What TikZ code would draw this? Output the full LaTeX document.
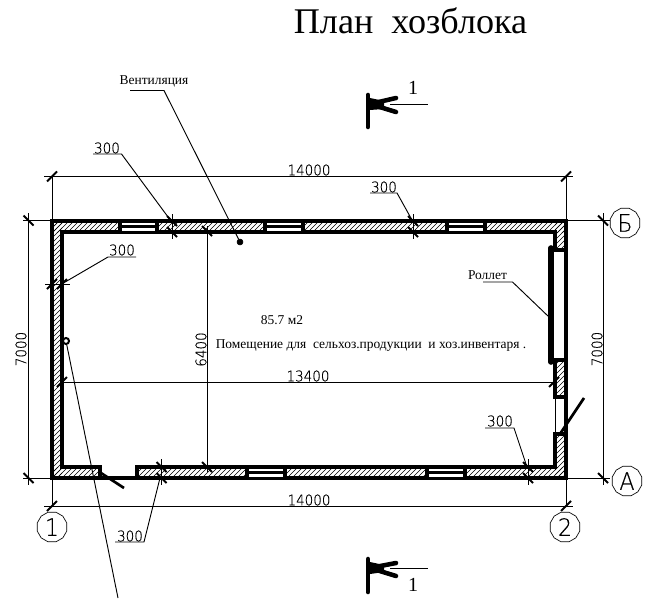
\documentclass[tikz,border=0pt]{standalone}
\usepackage{fontspec}
\setmainfont{Liberation Serif}
\newfontfamily\cad[FakeStretch=0.92,FakeBold=0.2]{DejaVu Sans ExtraLight}
\usetikzlibrary{shapes.geometric}
\tikzset{
  x=0.75pt,y=-0.75pt,
  wall/.style={line width=2.6pt,line cap=rect,line join=miter},
  mid/.style={line width=1.9pt},
  thin line/.style={line width=0.7pt},
  hatchline/.style={line width=0.45pt},
  tick/.style={line width=1.5pt},
  axis/.style={draw,regular polygon,regular polygon sides=12,minimum size=23pt,inner sep=0pt,line width=0.5pt,font=\cad\fontsize{18}{18}\selectfont},
  dim/.style={font=\cad\fontsize{11}{11}\selectfont,inner sep=0pt,anchor=center},
  serif/.style={inner sep=0pt,anchor=center},
  sect/.style={line width=3.4pt,line cap=round},
}
\newcommand{\hatchbox}[4]{%
  \begin{scope}
    \clip (#1,#2) rectangle (#3,#4);
    \foreach \k in {-300,-295,...,600}{\draw[hatchline] (\k,500) -- (\k+300,200);}
  \end{scope}}
\newcommand{\windowh}[3]{% x1 x2 ymid
  \fill[white] (#1,#3-4) rectangle (#2,#3+4);
  \draw[wall,line cap=butt] (#1,#3-5.5) -- (#1,#3+5.5);
  \draw[wall,line cap=butt] (#2,#3-5.5) -- (#2,#3+5.5);
  \draw[mid] (#1,#3) -- (#2,#3);}
\newcommand{\tickb}[2]{\draw[tick] (#1-5,#2-5) -- (#1+5,#2+5);}
\newcommand{\tickf}[2]{\draw[tick] (#1-5,#2+5) -- (#1+5,#2-5);}
\begin{document}
\begin{tikzpicture}
\useasboundingbox (0,0) rectangle (663,599);
\fill[white] (0,0) rectangle (663,599);
% hatching
\hatchbox{52}{221}{566}{232}
\hatchbox{52}{221}{62}{478}
\hatchbox{52}{467}{100}{478}
\hatchbox{137}{467}{566}{478}
\hatchbox{555}{221}{566}{250}
\hatchbox{555}{360}{566}{397}
\hatchbox{555}{434}{566}{478}
% walls
\draw[wall] (52,221) -- (566,221) -- (566,478) -- (52,478) -- cycle;
\draw[wall] (100,478) -- (100,467) -- (62,467) -- (62,232) -- (555,232) -- (555,250) -- (566,250);
\draw[wall] (566,360) -- (555,360) -- (555,397) -- (566,397);
\draw[wall] (566,434) -- (555,434) -- (555,467) -- (137,467) -- (137,478);
% windows
\windowh{120}{157}{226.5}
\windowh{265}{303}{226.5}
\windowh{447}{485}{226.5}
\windowh{247}{285}{472.5}
\windowh{427}{465}{472.5}
% door gap, doors, roller
\draw[thin line] (555.5,397) -- (555.5,434);
\draw[line width=2pt] (101,473) -- (124,488);
\draw[line width=2pt] (560,434) -- (584,398);
\draw[line width=4.2pt,line cap=round] (551,248) -- (551,362);
% overall dimensions
\coordinate (tl) at (52,176.5); \coordinate (tr) at (566,176.5);
\coordinate (bl) at (52,506); \coordinate (br) at (566,506);
\draw[thin line] (44,176.5) -- (573,176.5);
\draw[thin line] (44,506) -- (573,506);
\draw[thin line] (tl) -- (52,221);
\draw[thin line] (tr) -- (566,221);
\draw[thin line] (52,478) -- (bl);
\draw[thin line] (566,478) -- (br);
\tickf{52}{176.5}\tickf{566}{176.5}\tickf{52}{506}\tickf{566}{506}
\draw[thin line] (23,220.5) -- (52,220.5);
\draw[thin line] (23,478) -- (52,478);
\draw[thin line] (28.5,213) -- (28.5,485);
\tickb{28.5}{220.5}\tickb{28.5}{478}
\draw[thin line] (566,220.5) -- (610,220.5);
\draw[thin line] (566,478) -- (610,478);
\draw[thin line] (603,213) -- (603,485);
\tickb{603}{220.5}\tickb{603}{478}
% inner dimensions
\draw[thin line] (207,226) -- (207,472);
\tickb{207}{231}\tickb{207}{467}
\draw[thin line] (62,382) -- (555,382);
\tickf{62}{382}\tickf{554}{382}
% 300 ticks
\foreach \x in {172,413}{\draw[thin line] (\x,214) -- (\x,239); \tickb{\x}{221}\tickb{\x}{232}}
\foreach \x in {161.5,528}{\draw[thin line] (\x,459) -- (\x,485); \tickb{\x}{467}\tickb{\x}{478}}
\draw[thin line] (45,284) -- (70,284); \tickf{52}{284}\tickf{62}{284}
% texts
\node[serif,font=\fontsize{27.1}{27.1}\selectfont] (title) at (410.5,21) {План\ \ хозблока};
\node[serif,font=\fontsize{10.1}{10.1}\selectfont] (vent) at (154,81) {Вентиляция};
\node[serif,font=\fontsize{10.1}{10.1}\selectfont] (roll) at (487.5,275) {Роллет};
\node[serif,font=\fontsize{10.1}{10.1}\selectfont] (area) at (282,320) {85.7 м2};
\node[serif,font=\fontsize{10.1}{10.1}\selectfont] (room) at (371,346) {Помещение для\ \ сельхоз.продукции\ \ и хоз.инвентаря .};
\node[dim] (d1) at (309,170) {14000};
\node[dim] (d2) at (309,500) {14000};
\node[dim] (d3) at (308,376) {13400};
\node[dim,rotate=90] (d4) at (21,349) {7000};
\node[dim,rotate=90] (d5) at (597,349) {7000};
\node[dim,rotate=90] (d6) at (201,349.5) {6400};
\node[dim] (a1) at (107,148) {300};
\node[dim] (a2) at (122,250) {300};
\node[dim] (a3) at (384,187) {300};
\node[dim] (a4) at (130,536) {300};
\node[dim] (a5) at (500,421) {300};
% axis bubbles
\node[axis] (ax1) at (52,527) {1};
\node[axis] (ax2) at (565,527) {2};
\node[axis] (axB) at (625,223) {Б};
\node[axis] (axA) at (627,481) {А};
% leaders
\coordinate (v0) at (130,90.5); \coordinate (v1) at (164,90.5);
\node[circle,draw,fill=black,inner sep=0pt,minimum size=4.5pt] (dotv) at (240,242) {};
\draw[thin line] (v0) -- (v1) -- (dotv);
\node[circle,draw,line width=1.5pt,fill=white,inner sep=0pt,minimum size=4.5pt] (dotd) at (66,341) {};
\coordinate (d9) at (118,598);
\draw[thin line] (dotd) -- (d9);
\coordinate (u1a) at (93,154); \coordinate (u1b) at (121.5,154); \coordinate (e1) at (171,221);
\draw[thin line] (u1a) -- (u1b) -- (e1);
\coordinate (u2a) at (136,257); \coordinate (u2b) at (108,257); \coordinate (e2) at (60,285);
\draw[thin line] (u2a) -- (u2b) -- (e2);
\coordinate (u3a) at (370,193); \coordinate (u3b) at (397,193); \coordinate (e3) at (412,220);
\draw[thin line] (u3a) -- (u3b) -- (e3);
\coordinate (u4a) at (115,542); \coordinate (u4b) at (144,542); \coordinate (e4) at (160,478);
\draw[thin line] (u4a) -- (u4b) -- (e4);
\coordinate (u5a) at (485,428); \coordinate (u5b) at (514,428); \coordinate (e5) at (527,467);
\draw[thin line] (u5a) -- (u5b) -- (e5);
\coordinate (u6a) at (483,282); \coordinate (u6b) at (512.5,282); \coordinate (e6) at (549,317);
\draw[thin line] (u6a) -- (u6b) -- (e6);
% section marks
\draw[sect] (368,95) -- (368,127);
\draw[sect] (370,104) -- (396,98);
\draw[sect] (370,104) -- (396,112);
\fill (370,98) -- (384,101) -- (384,109) -- (370,110) -- cycle;
\draw[thin line] (390,104) -- (428,104);
\node[serif,font=\fontsize{15}{15}\selectfont] (s1) at (413,88) {1};
\draw[sect] (368,559) -- (368,592);
\draw[sect] (370,568) -- (396,563);
\draw[sect] (370,568) -- (396,576);
\fill (370,562) -- (384,565) -- (384,572) -- (370,574) -- cycle;
\draw[thin line] (390,568) -- (428,568);
\node[serif,font=\fontsize{15}{15}\selectfont] (s2) at (413,585) {1};
\end{tikzpicture}
\end{document}
